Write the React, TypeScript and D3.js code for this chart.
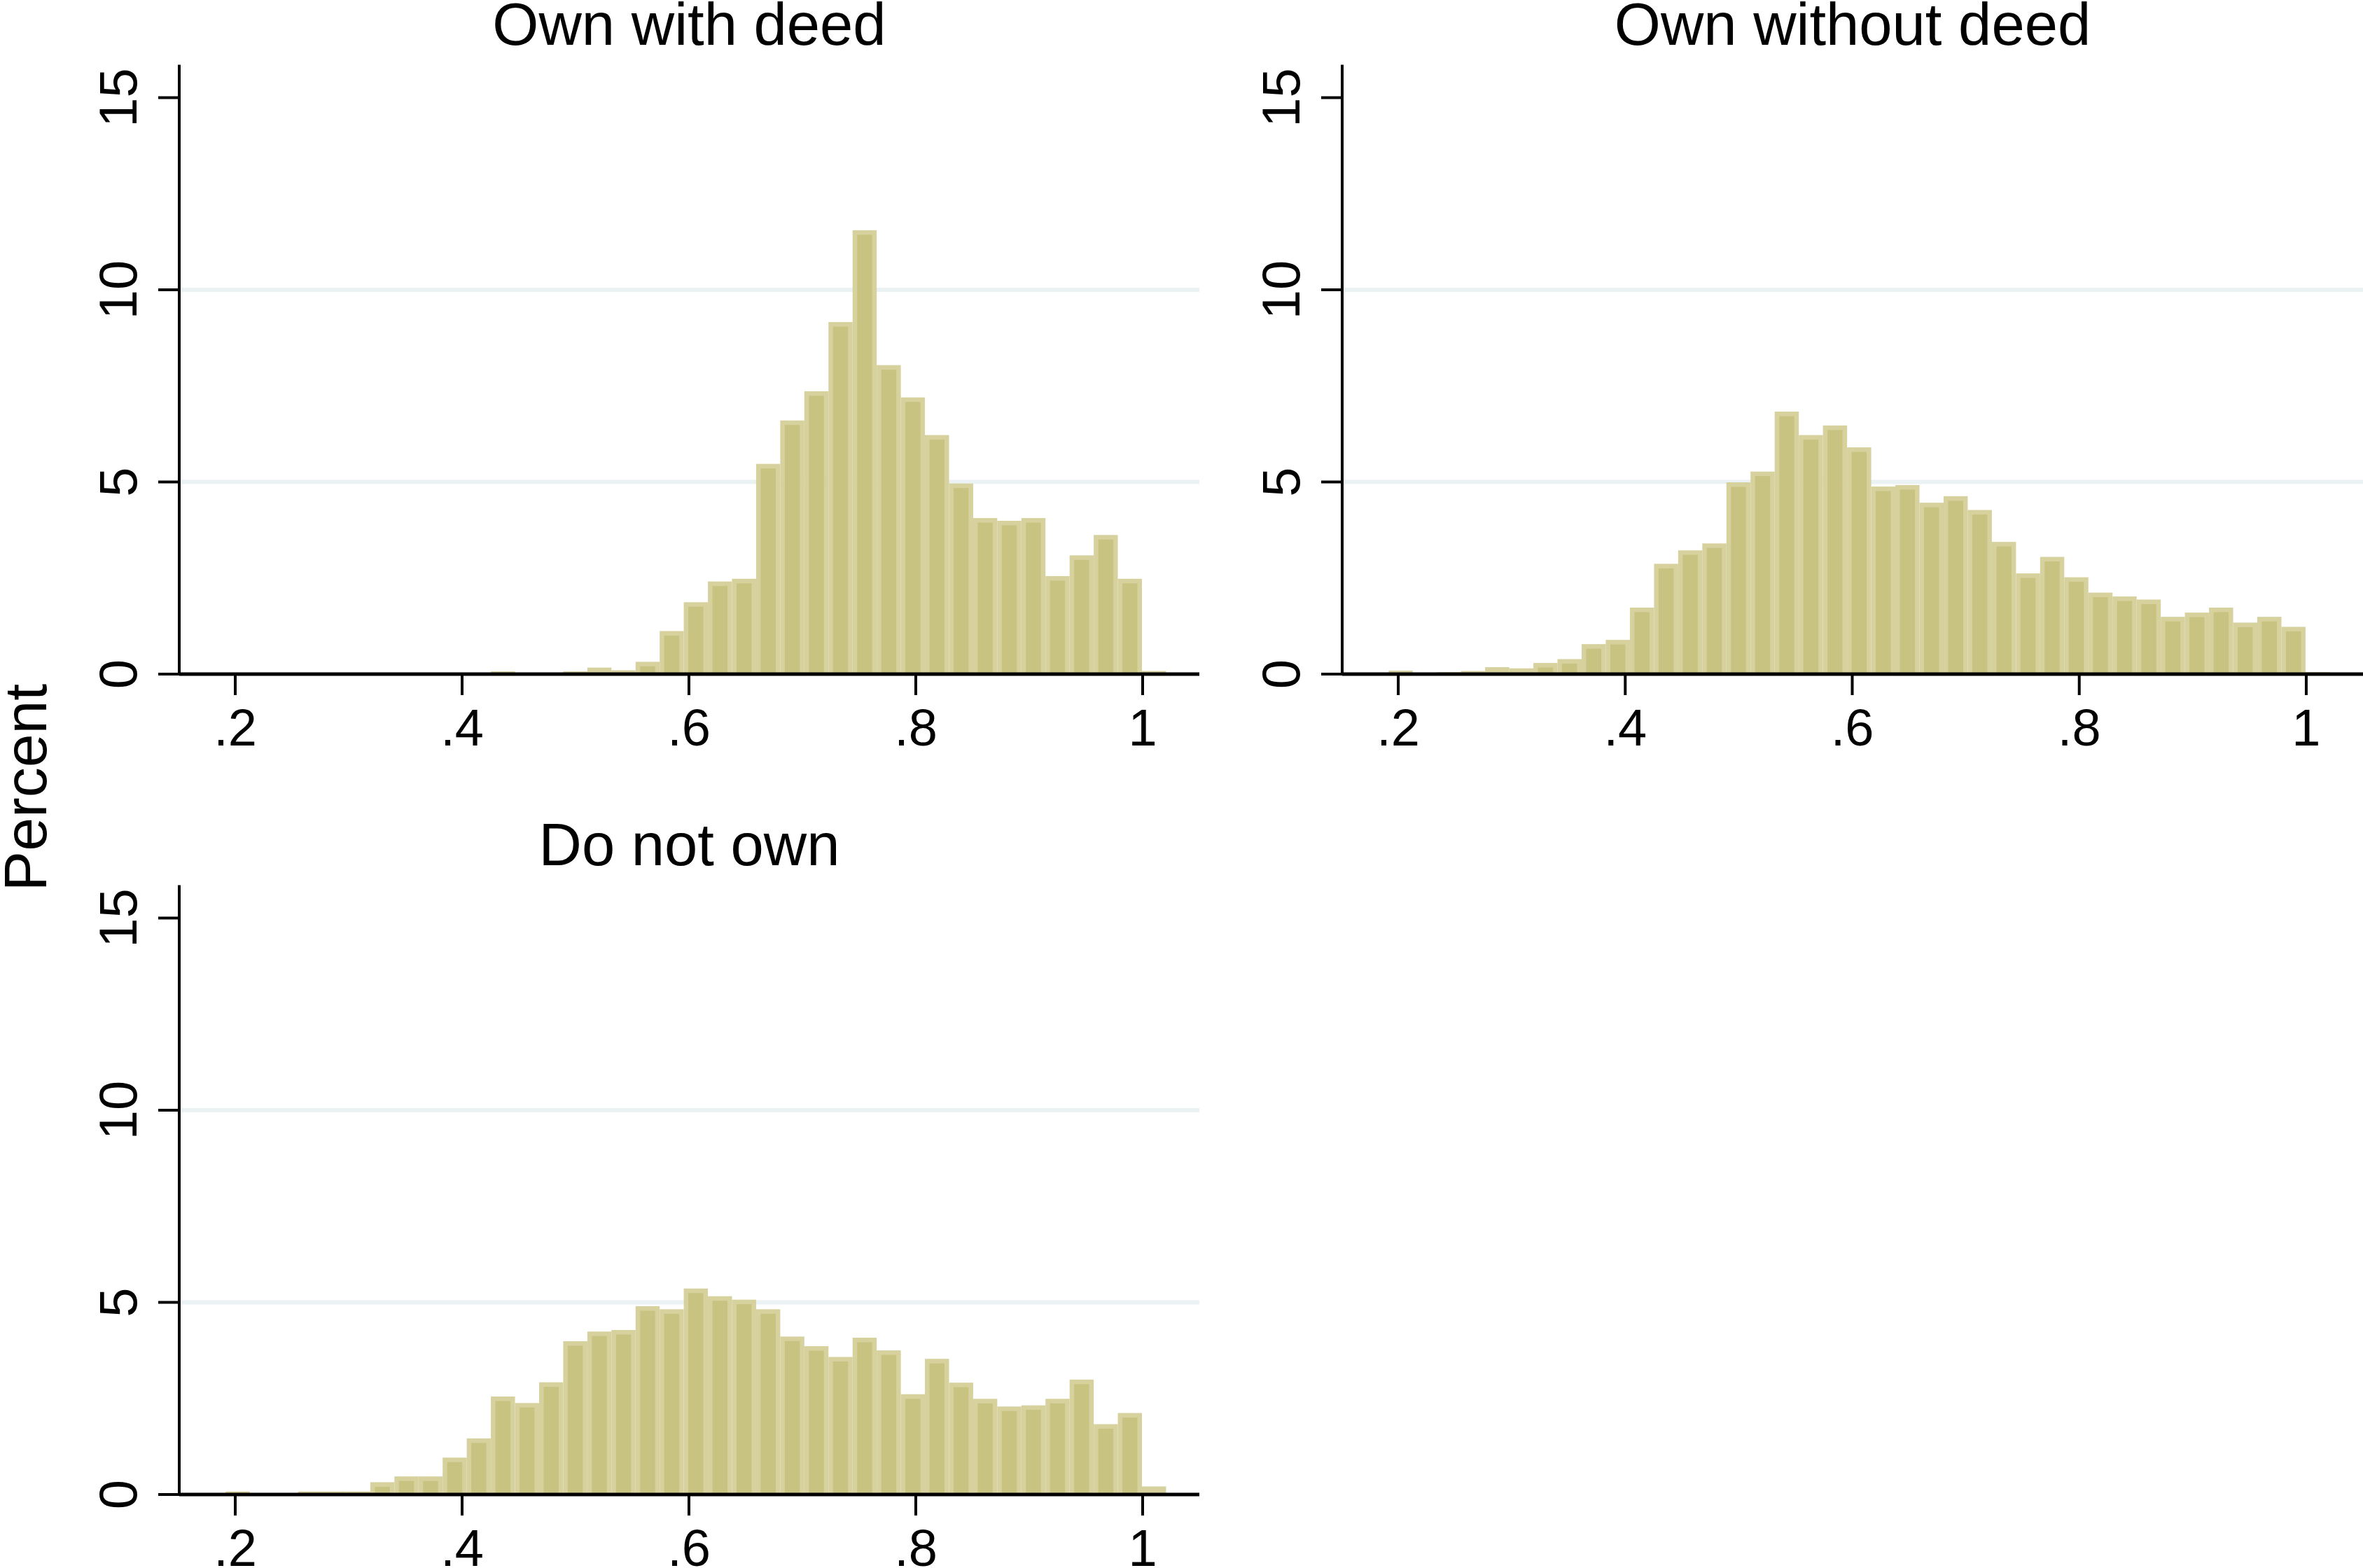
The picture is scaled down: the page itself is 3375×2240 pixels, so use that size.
import * as d3 from 'd3';
import { useEffect } from 'react';

// Histogram bins shared by all three panels (Stata histogram, by())
const binStart = 0.1915;
const binWidth = 0.02126;

const ownWithDeed = [
  0, 0, 0, 0, 0, 0, 0, 0, 0, 0, 0, 0.07, 0, 0, 0.07, 0.17, 0.1, 0.32, 1.12,
  1.87, 2.41, 2.48, 5.47, 6.6, 7.36, 9.16, 11.55, 8.04, 7.2, 6.22, 4.96, 4.06,
  3.99, 4.06, 2.55, 3.09, 3.62, 2.48, 0.08,
];

const ownWithoutDeed = [
  0.09, 0, 0.05, 0.08, 0.18, 0.15, 0.29, 0.39, 0.78, 0.89, 1.73, 2.87, 3.22,
  3.4, 4.99, 5.27, 6.83, 6.22, 6.47, 5.9, 4.88, 4.92, 4.46, 4.63, 4.27, 3.44,
  2.62, 3.05, 2.52, 2.12, 2.02, 1.94, 1.49, 1.6, 1.73, 1.34, 1.49, 1.23, 0.05,
];

const doNotOwn = [
  0.08, 0, 0, 0.08, 0.08, 0.08, 0.32, 0.47, 0.47, 0.96, 1.46, 2.55, 2.38, 2.92,
  3.99, 4.24, 4.28, 4.9, 4.82, 5.36, 5.16, 5.07, 4.82, 4.11, 3.86, 3.58, 4.08,
  3.75, 2.61, 3.53, 2.91, 2.49, 2.29, 2.32, 2.49, 2.99, 1.83, 2.12, 0.21,
];

const xTicks = [0.2, 0.4, 0.6, 0.8, 1];
const yTicks = [0, 5, 10, 15];
const gridTicks = [5, 10];

const colors = {
  barOuter: '#d6d19d',
  barInner: '#c9c381',
  grid: '#eaf2f3',
  axis: '#000',
};

const font = '"Liberation Sans", Arial, Helvetica, sans-serif';

type PanelProps = {
  title: string;
  values: number[];
  left: number;
  right: number;
  base: number;
};

const fmtTick = (v: number) => (v === 1 ? '1' : d3.format('.1f')(v).replace(/^0/, ''));

const Panel = ({ title, values, left, right, base }: PanelProps) => {
  const x = d3.scaleLinear().domain([0.1506, 1.05]).range([left, right]);
  const y = d3.scaleLinear().domain([0, 15]).range([base, base - 823.5]);
  const axisTop = y(15) - 47;
  const inset = 6.5;

  return (
    <g>
      {/* grid lines */}
      {gridTicks.map((t) => (
        <line
          key={t}
          x1={left}
          x2={right}
          y1={y(t)}
          y2={y(t)}
          stroke={colors.grid}
          strokeWidth={6}
        />
      ))}

      {/* bars */}
      {values.map((v, i) => {
        if (v <= 0) return null;
        const x0 = x(binStart + i * binWidth);
        const x1 = x(binStart + (i + 1) * binWidth);
        const y1 = y(v);
        const h = y(0) - y1;
        return (
          <g key={i}>
            <rect x={x0} y={y1} width={x1 - x0} height={h} fill={colors.barOuter} />
            {h > inset * 2 && (
              <rect
                x={x0 + inset}
                y={y1 + inset}
                width={x1 - x0 - inset * 2}
                height={h - inset}
                fill={colors.barInner}
              />
            )}
          </g>
        );
      })}

      {/* y axis */}
      <line x1={left} x2={left} y1={axisTop} y2={base} stroke={colors.axis} strokeWidth={4} />
      {yTicks.map((t) => (
        <g key={t}>
          <line x1={left - 30} x2={left} y1={y(t)} y2={y(t)} stroke={colors.axis} strokeWidth={4} />
          <text
            transform={`translate(${left - 61},${y(t)}) rotate(-90)`}
            textAnchor="middle"
            fontFamily={font}
            fontSize={76}
            fill="#000"
          >
            {t}
          </text>
        </g>
      ))}

      {/* x axis */}
      <line x1={left} x2={right} y1={base} y2={base} stroke={colors.axis} strokeWidth={5} />
      {xTicks.map((t) => (
        <g key={t}>
          <line x1={x(t)} x2={x(t)} y1={base} y2={base + 30} stroke={colors.axis} strokeWidth={4} />
          <text
            x={x(t)}
            y={base + 102}
            textAnchor="middle"
            fontFamily={font}
            fontSize={74}
            fill="#000"
          >
            {fmtTick(t)}
          </text>
        </g>
      ))}

      {/* panel title */}
      <text
        x={(left + right) / 2}
        y={axisTop - 29}
        textAnchor="middle"
        fontFamily={font}
        fontSize={85}
        fill="#000"
      >
        {title}
      </text>
    </g>
  );
};

export default function App() {
  useEffect(() => {
    document.body.style.margin = '0';
    document.body.style.overflow = 'hidden';
  }, []);

  return (
    <svg width={3375} height={2240} style={{ display: 'block', background: '#fff' }}>
      <rect width={3375} height={2240} fill="#fff" />
      <Panel title="Own with deed" values={ownWithDeed} left={256} right={1713} base={963} />
      <Panel title="Own without deed" values={ownWithoutDeed} left={1917} right={3375} base={963} />
      <Panel title="Do not own" values={doNotOwn} left={256} right={1713} base={2135} />
      <text
        transform="translate(66,1125) rotate(-90)"
        textAnchor="middle"
        fontFamily={font}
        fontSize={86}
        fill="#000"
      >
        Percent
      </text>
    </svg>
  );
}
